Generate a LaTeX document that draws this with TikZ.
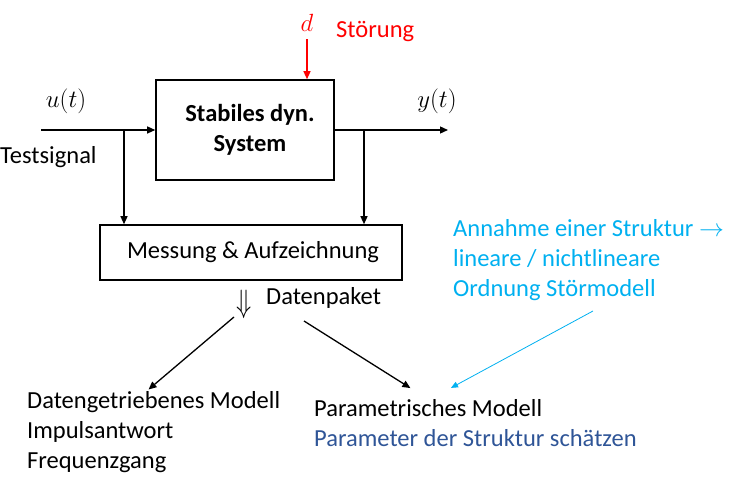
\documentclass[tikz,border=0pt]{standalone}
\usepackage{fontspec}
\setmainfont{Carlito}
\usepackage{graphicx}
\usetikzlibrary{arrows.meta,positioning}
\definecolor{stoerrot}{HTML}{FF0000}
\definecolor{annahmeblau}{HTML}{00B0F0}
\definecolor{schaetzblau}{HTML}{2F5597}
\tikzset{
    block/.style={draw, line width=1.6pt, inner sep=0pt},
    sig/.style={-{Triangle[length=8pt,width=7pt]}, line width=1.3pt},
    txt/.style={inner sep=0pt, font=\fontsize{24.5}{30}\selectfont, align=left},
    mathlbl/.style={inner sep=0pt, font=\fontsize{28}{30}\selectfont, anchor=base},
}

\begin{document}
\begin{tikzpicture}[x=1pt, y=-1pt]
    \useasboundingbox (0,0) rectangle (729,478);
    % Bloecke
    \node[block, minimum width=178pt, minimum height=100pt, align=center,
          font=\bfseries\fontsize{24.5}{30}\selectfont] (sys) at (245,130) {\hspace*{10pt}Stabiles dyn.\\\hspace*{10pt}System};
    \node[block, minimum width=302pt, minimum height=55pt,
          font=\fontsize{24.5}{30}\selectfont] (mess) at (251,252.5) {\hspace*{4pt}Messung \& Aufzeichnung};
    % Signale
    \coordinate (in) at (41,130);
    \coordinate (out) at (448,130);
    \coordinate (ubr) at (124,130);
    \coordinate (ybr) at (364,130);
    \node[mathlbl] (u) at (66,108) {$u(t)$};
    \node[mathlbl] (y) at (437,108) {$y(t)$};
    \node[txt, anchor=base west] (test) at (0,164) {Testsignal};
    \node[mathlbl, text=stoerrot] (d) at (307,32) {$d$};
    \node[txt, anchor=base west, text=stoerrot] (stoer) at (336,38) {Störung};
    \draw[sig] (in) -- (sys.west);
    \draw[sig] (sys.east) -- (out);
    \draw[sig] (ubr) -- (ubr |- mess.north);
    \draw[sig] (ybr) -- (ybr |- mess.north);
    \draw[sig, stoerrot, shorten <=7pt] (d.south) -- (d |- sys.north);
    % Datenpaket
    \node[txt, anchor=center] (pk) at (244,304) {\scalebox{1}[1.3]{$\Downarrow$}};
    \node[txt, anchor=base west] (pktxt) at (266,305) {Datenpaket};
    \coordinate (pk-l) at (234,317);
    \coordinate (pk-r) at (304,321);
    % Modelle
    \node[txt, anchor=base west] (dgm) at (27,468) {Datengetriebenes Modell\\Impulsantwort\\Frequenzgang};
    \node[txt, anchor=base west] (par) at (314,447) {Parametrisches Modell\\\textcolor{schaetzblau}{Parameter der Struktur schätzen}};
    \node[txt, anchor=base west, text=annahmeblau] (ann) at (453,297) {Annahme einer Struktur $\rightarrow$\\lineare / nichtlineare\\Ordnung Störmodell};
    \coordinate (ann-e) at (593,311);
    \coordinate (dgm-in) at ([xshift=120pt]dgm.north west);
    \coordinate (par-in) at ([xshift=115pt]par.north west);
    \draw[sig, shorten >=2pt] (pk-l) -- (dgm-in);
    \draw[sig, shorten >=22pt] (pk-r) -- (par-in);
    \draw[-{Triangle[length=7pt,width=6pt]}, annahmeblau, line width=0.8pt, shorten >=25pt] (ann-e) -- (par-in);
\end{tikzpicture}
\end{document}
